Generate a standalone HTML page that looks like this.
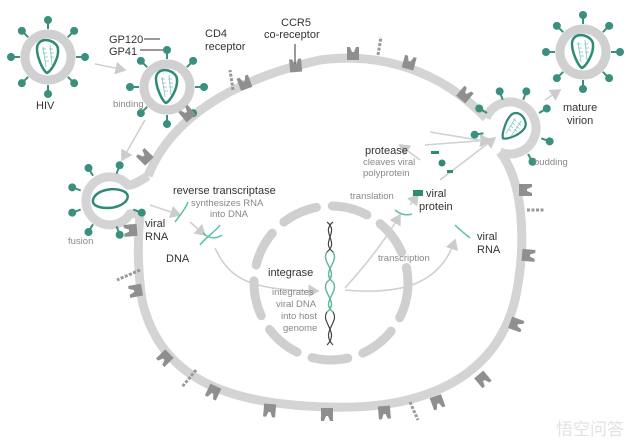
<!DOCTYPE html>
<html><head><meta charset="utf-8"><style>
body{margin:0;background:#fff}
svg{display:block;font-family:"Liberation Sans",sans-serif}
.k{fill:#333;font-size:11px}
.g{fill:#888;font-size:9.5px}
</style></head><body>
<svg width="640" height="447" viewBox="0 0 640 447">
<defs>
<marker id="a" markerWidth="8" markerHeight="8" refX="6" refY="4" orient="auto"><path d="M0,0 L7,4 L0,8z" fill="#ccc"/></marker>
<g id="sp"><line x1="0" y1="0" x2="0" y2="-8" stroke="#3a8f7d" stroke-width="2"/><circle cx="0" cy="-9" r="4" fill="#3a8f7d"/></g>
<g id="cap"><path d="M-9,-14 C-4,-20 9,-16 10,-8 C11,2 3,14 -1,16 C-5,14 -11,0 -11,-8 C-11,-11 -10,-13 -9,-14z" fill="#fff" stroke="#2f8a76" stroke-width="2.5"/><path d="M-5,-10 L-2,10 M2,-12 L4,8 M-6,-8 h4 M-5,-4 h4 M-4,0 h4 M-3,4 h4 M1,-8 h4 M2,-4 h4 M2,0 h4" stroke="#7cc8b5" stroke-width="0.8"/></g>
<g id="vir">
<use href="#sp" transform="translate(0,-28)"/>
<use href="#sp" transform="rotate(45) translate(0,-28)"/><use href="#sp" transform="rotate(90) translate(0,-28)"/><use href="#sp" transform="rotate(135) translate(0,-28)"/><use href="#sp" transform="rotate(180) translate(0,-28)"/><use href="#sp" transform="rotate(225) translate(0,-28)"/><use href="#sp" transform="rotate(270) translate(0,-28)"/><use href="#sp" transform="rotate(315) translate(0,-28)"/>
<circle r="23" fill="#fff" stroke="#d0d0d0" stroke-width="9"/>
<use href="#cap"/>
</g>
<g id="rec"><path d="M-6,2 L-6,-11 L-3,-11 L-1,-6 L1,-6 L3,-11 L6,-11 L6,2z" fill="#8f8f8f"/></g>
</defs>
<!-- membrane -->
<path d="M148,176 C170,120 230,80 320,60 C380,52 440,70 486,118 M500,152 C522,180 528,240 515,300 C495,380 420,410 330,407 C230,405 160,380 142,300 C137,265 138,235 140,215" fill="none" stroke="#d4d4d4" stroke-width="9"/>
<!-- fusion bulge -->
<path d="M148,176 C138,182 132,186 128,185 A24,24 0 1 0 130,214 C134,213 138,214 140,216" fill="#fff" stroke="#d4d4d4" stroke-width="9"/>
<g transform="translate(107,200)">
<use href="#sp" transform="rotate(-30) translate(0,-28)"/><use href="#sp" transform="rotate(-70) translate(0,-28)"/><use href="#sp" transform="rotate(-110) translate(0,-28)"/><use href="#sp" transform="rotate(-150) translate(0,-28)"/><use href="#sp" transform="rotate(-200) translate(0,-28)"/><use href="#sp" transform="rotate(20) translate(0,-28)"/><use href="#sp" transform="rotate(-250) translate(0,-28)"/>
</g>
<path d="M93,200 C95,190 115,186 125,192 C133,198 122,208 108,208 C98,208 92,205 93,200z" fill="#fff" stroke="#2f8a76" stroke-width="2.5"/>
<!-- budding bulge -->
<path d="M486,118 A26,26 0 1 1 500,152" fill="#fff" stroke="#d4d4d4" stroke-width="9"/>
<g transform="translate(513,128)">
<use href="#sp" transform="rotate(-60) translate(0,-30)"/><use href="#sp" transform="rotate(-20) translate(0,-30)"/><use href="#sp" transform="rotate(20) translate(0,-30)"/><use href="#sp" transform="rotate(60) translate(0,-30)"/><use href="#sp" transform="rotate(110) translate(0,-30)"/><use href="#sp" transform="rotate(150) translate(0,-30)"/><use href="#sp" transform="rotate(-100) translate(0,-30)"/>
<use href="#cap" transform="rotate(40) scale(0.9)"/>
</g>
<!-- viruses -->
<use href="#vir" transform="translate(48,57)"/>
<use href="#vir" transform="translate(167,87)"/>
<use href="#vir" transform="translate(583,52)"/>
<!-- receptors -->
<use href="#rec" transform="translate(246,87) rotate(-20)"/>
<use href="#rec" transform="translate(296,70) rotate(-5)"/>
<use href="#rec" transform="translate(353,58)"/>
<use href="#rec" transform="translate(408,67) rotate(15)"/>
<use href="#rec" transform="translate(462,98) rotate(40)"/>
<use href="#rec" transform="translate(190,117) rotate(-40)"/>
<use href="#rec" transform="translate(148,160) rotate(-45)"/>
<use href="#rec" transform="translate(521,190) rotate(90)"/>
<use href="#rec" transform="translate(524,255) rotate(95)"/>
<use href="#rec" transform="translate(512,323) rotate(110)"/>
<use href="#rec" transform="translate(480,376) rotate(140)"/>
<use href="#rec" transform="translate(436,398) rotate(160)"/>
<use href="#rec" transform="translate(384,408) rotate(175)"/>
<use href="#rec" transform="translate(327,410) rotate(180)"/>
<use href="#rec" transform="translate(270,406) rotate(185)"/>
<use href="#rec" transform="translate(215,388) rotate(205)"/>
<use href="#rec" transform="translate(168,355) rotate(225)"/>
<use href="#rec" transform="translate(140,290) rotate(260)"/>
<use href="#rec" transform="translate(135,230) rotate(265)"/>
<g stroke="#999" stroke-width="3" stroke-dasharray="3 1.5" fill="none"><path d="M233,90 L230,70"/><path d="M378,55 L381,37"/><path d="M140,270 L117,280"/><path d="M196,370 L182,387"/><path d="M410,402 L418,420"/><path d="M527,210 L545,210"/></g>
<!-- nucleus -->
<circle cx="331" cy="283" r="77" fill="none" stroke="#cfcfcf" stroke-width="9" stroke-linecap="round" stroke-dasharray="36 16"/>
<!-- DNA helix -->
<g fill="none" stroke-width="1.2">
<path d="M327,222 C340,232 320,242 333,252 C340,262 320,272 333,282 C340,292 320,302 333,312 C340,322 320,332 333,345" stroke="#444"/>
<path d="M333,222 C320,232 340,242 327,252 C320,262 340,272 327,282 C320,292 340,302 327,312 C320,322 340,332 327,345" stroke="#444"/>
<path d="M327,252 C320,262 340,272 327,282 C320,292 340,302 327,312 M333,252 C340,262 320,272 333,282 C340,292 320,302 333,312" stroke="#5cbfaa"/>
</g>
<!-- arrows -->
<g fill="none" stroke="#d0d0d0" stroke-width="1.6" marker-end="url(#a)">
<path d="M95,64 L125,70"/>
<path d="M145,120 L122,160"/>
<path d="M150,205 L180,215"/>
<path d="M190,222 L205,235"/>
<path d="M215,248 C230,280 250,290 318,291"/>
<path d="M345,288 C370,260 385,240 400,215"/>
<path d="M345,290 C400,295 440,285 455,240"/>
<path d="M440,180 L495,138"/>
<path d="M410,205 L418,195"/>
<path d="M420,160 L400,145"/>
<path d="M425,145 L490,140"/>
<path d="M430,132 L490,142"/>
<path d="M545,100 L560,90"/>
</g>
<!-- small proteins -->
<g fill="#2f8a76"><rect x="431" y="151" width="8" height="3"/><circle cx="442" cy="163" r="3.5"/><rect x="447" y="170" width="6" height="3"/><rect x="413" y="190" width="10" height="6"/></g>
<g stroke="#5cbfaa" stroke-width="1.5" fill="none"><path d="M175,222 C180,215 185,210 188,202"/><path d="M395,210 C400,214 405,216 412,214"/><path d="M455,225 C460,230 465,234 470,238"/><path d="M200,245 C205,238 215,232 220,225 M203,233 C210,240 218,238 222,235"/></g>
<!-- labels -->
<text class="k" x="36" y="109">HIV</text>
<text class="k" x="109" y="43">GP120</text>
<text class="k" x="109" y="55">GP41</text>
<line x1="144" y1="39" x2="160" y2="39" stroke="#333"/><line x1="140" y1="50" x2="163" y2="50" stroke="#333"/>
<text class="k" x="205" y="37">CD4</text><text class="k" x="205" y="50">receptor</text>
<text class="k" x="281" y="26">CCR5</text><text class="k" x="264" y="38">co-receptor</text>
<line x1="295" y1="44" x2="295" y2="64" stroke="#333"/>
<text class="g" x="113" y="107">binding</text>
<text class="g" x="68" y="244">fusion</text>
<text class="k" x="173" y="194">reverse transcriptase</text>
<text class="g" x="191" y="206">synthesizes RNA</text>
<text class="g" x="210" y="217">into DNA</text>
<text class="k" x="145" y="227">viral</text><text class="k" x="145" y="240">RNA</text>
<text class="k" x="166" y="262">DNA</text>
<text class="k" x="268" y="276">integrase</text>
<text class="g" x="272" y="295">integrates</text>
<text class="g" x="276" y="307">viral DNA</text>
<text class="g" x="281" y="319">into host</text>
<text class="g" x="283" y="331">genome</text>
<text class="g" x="378" y="261">transcription</text>
<text class="g" x="350" y="199">translation</text>
<text class="k" x="365" y="154">protease</text>
<text class="g" x="363" y="165">cleaves viral</text>
<text class="g" x="363" y="176">polyprotein</text>
<text class="k" x="426" y="197">viral</text><text class="k" x="419" y="210">protein</text>
<text class="k" x="477" y="240">viral</text><text class="k" x="477" y="253">RNA</text>
<text class="g" x="534" y="165">budding</text>
<text class="k" x="563" y="111">mature</text><text class="k" x="567" y="124">virion</text>
<text x="556" y="435" fill="#e2e2e2" font-size="17" font-family="'Liberation Sans','Noto Sans CJK SC',sans-serif">悟空问答</text>
</svg>
</body></html>
